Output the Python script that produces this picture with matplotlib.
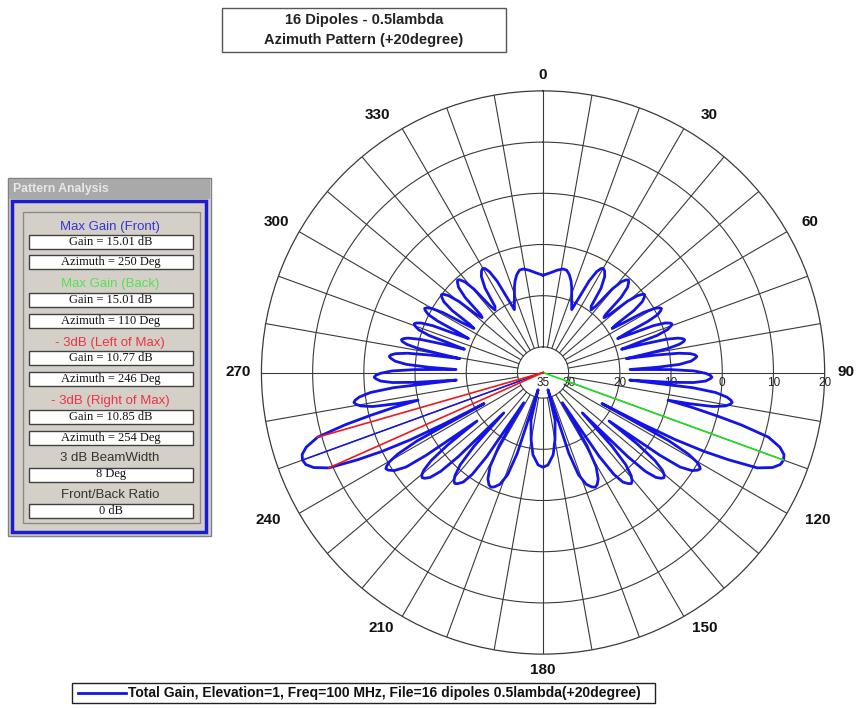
import numpy as np
import matplotlib.pyplot as plt
from matplotlib.patches import Rectangle
from matplotlib.lines import Line2D

plt.rcParams['font.family'] = ['Liberation Sans', 'DejaVu Sans']

W, H = 860, 709

# azimuth pattern, right half (0..180 deg clockwise)
# the pattern is mirror symmetric about the 0-180 axis
ang_right = [0, 4, 8, 11, 13, 15, 17, 18.5, 21, 24.5,
             25.6, 26.7, 28.0, 29.1, 30, 31.2, 32.7, 34.5, 36.0, 37.5,
             38.5, 39.6, 40.8, 41.9, 42.7, 43.5, 44.8, 46.1, 47.2, 48,
             48.9, 49.8, 50.9, 51.8, 52.5, 53.3, 54.5, 55.7, 56.7, 57.5,
             58.3, 59.1, 60.1, 60.9, 61.6, 62.2, 63.2, 64.0, 64.7, 65.5,
             66.3, 67.0, 67.9, 68.7, 69.3, 70.0, 71.0, 72.0, 72.7, 73.5,
             74.2, 74.9, 75.7, 76.4, 77, 77.6, 78.3, 79.1, 79.8, 80.5,
             81.2, 81.9, 82.7, 83.4, 84, 84.6, 85.6, 86.6, 87.4, 88,
             88.7, 89.4, 90.3, 91.0, 91.6, 92.1, 93.0, 93.8, 94.4, 95,
             95.8, 96.6, 97.6, 98.4, 99, 99.6, 100.4, 101.3, 102.0, 102.5,
             103.2, 104.0, 104.8, 106, 107.5, 108.8, 110, 111.2, 112.5, 114,
             115.2, 116.1, 116.9, 117.4, 117.8,
             118.5, 119.3, 120.2, 121.0, 121.5, 122.3, 123.4, 124.6, 125.3, 126.3,
             127.2, 128.2, 129.3, 130.2, 131, 131.8, 132.9, 134.0, 134.8, 135.8,
             136.9, 138.1, 139.5, 140.6, 141.5, 142.4, 143.9, 145.2, 146.2, 147.4,
             149.0, 150.6, 152.6, 154.2, 155.5, 156.9, 158.9, 160.9, 162.3, 164,
             165.8, 170, 173, 177, 180]
gain_right = [-16.0, -15.5, -14.8, -14.4, -14.5, -15.2, -16.3, -17.4, -19.4, -21.5,
              -19.0, -15.0, -12.7, -11.8, -11.5, -11.8, -12.7, -15.0, -19.0, -19.6,
              -18.4, -13.9, -11.6, -10.7, -10.4, -10.7, -11.6, -13.9, -18.4, -19.0,
              -18.0, -13.5, -11.2, -10.3, -10.0, -10.3, -11.2, -13.5, -18.0, -19.0,
              -16.7, -12.2, -9.9, -9.0, -8.7, -9.0, -9.9, -12.2, -16.7, -19.0,
              -16.1, -11.6, -9.3, -8.4, -8.1, -8.4, -9.3, -11.6, -16.1, -19.0,
              -14.6, -10.1, -7.8, -6.9, -6.6, -6.9, -7.8, -10.1, -14.6, -18.5,
              -12.8, -8.3, -6.0, -5.1, -4.8, -5.1, -6.0, -8.3, -12.8, -18.0,
              -10.0, -5.5, -3.2, -2.3, -2.0, -2.3, -3.2, -5.5, -10.0, -18.0,
              -5.6, -1.1, 1.2, 2.1, 2.4, 2.1, 1.2, -1.1, -5.6, -10.0,
              -5.0, 0.0, 5.0, 10.8, 13.5, 14.7, 15.0, 14.7, 13.5, 10.8,
              5.0, 0.0, -6.0, -13.0, -22.0,
              -7.0, -2.5, -0.2, 0.7, 1.0, 0.7, -0.2, -2.5, -7.0, -19.0,
              -11.7, -7.2, -4.9, -4.0, -3.7, -4.0, -4.9, -7.2, -11.7, -24.0,
              -15.3, -10.8, -8.5, -7.6, -7.3, -7.6, -8.5, -10.8, -15.3, -28.0,
              -18.4, -13.9, -11.6, -10.7, -10.4, -10.7, -11.6, -13.9, -18.4, -31.5,
              -25.4, -21.6, -18.8, -16.9, -16.5]

# pattern analysis results
max_gain_front = 15.01
az_front = 250
max_gain_back = 15.01
az_back = 110
gain_left3 = 10.77
az_left3 = 246
gain_right3 = 10.85
az_right3 = 254
beamwidth = 8
fb_ratio = 0

r_ticks = [-35, -30, -20, -10, 0, 10, 20]
r_ticklabels = ['35', '30', '20', '10', '0', '10', '20']
theta_ticks = list(range(0, 360, 30))
# where the angle labels sit in the picture (px, top-left origin)
theta_label_px = [(543, 75), (709, 115), (810, 222), (846, 372), (818, 520), (705, 628),
                  (543, 670), (381, 628), (268, 520), (238, 372), (276, 222), (377, 115)]

ang_full = ang_right + [360 - a for a in ang_right[-2::-1]]
gain_full = gain_right + gain_right[-2::-1]

def fx(x):
    return x / W

def fy(y):
    return 1 - y / H

def box(x0, y0, x1, y1, **kw):
    r = Rectangle((fx(x0), fy(y1)), (x1 - x0) / W, (y1 - y0) / H,
                  transform=fig.transFigure, **kw)
    fig.add_artist(r)

fig = plt.figure(figsize=(8.6, 7.09), dpi=100)
ax = fig.add_axes([0.3040, 0.0774, 0.6549, 0.7944], projection='polar')
ax.set_theta_zero_location('N')
ax.set_theta_direction(-1)
ax.set_ylim(-35, 20)

gc = '#3a3a3a'
ax.set_rgrids([-30, -20, -10, 0, 10], labels=[''] * 5)
ax.yaxis.grid(True, color=gc, lw=0.8)
ax.set_thetagrids(theta_ticks, [''] * len(theta_ticks))
ax.xaxis.grid(False)
ax.spines['polar'].set_color(gc)
ax.spines['polar'].set_linewidth(0.9)

for t, (x, y) in zip(theta_ticks, theta_label_px):
    fig.text(fx(x), fy(y), str(t), ha='center', va='center', fontsize=11,
             fontweight='bold', color='#111111')

# spokes every 10 degrees, stopping at the -30 circle except the 90/270 axis
for t in range(0, 360, 10):
    r0 = -35 if t in (90, 270) else -30
    ax.plot([np.deg2rad(t)] * 2, [r0, 20], color=gc, lw=0.8, zorder=1)

for r, s in zip(r_ticks, r_ticklabels):
    ax.annotate(s, xy=(np.pi / 2, r), xytext=(0, -3), textcoords='offset points',
                ha='center', va='top', fontsize=8.5, color='#222222')

ax.plot(np.deg2rad(ang_full), gain_full, color='#1414e6', lw=2.0, zorder=3)

ax.plot([np.deg2rad(az_front)] * 2, [-35, max_gain_front], color='#1414e6', lw=1.1, zorder=4)
ax.plot([np.deg2rad(az_back)] * 2, [-35, max_gain_back], color='#22dd22', lw=1.2, zorder=4)
ax.plot([np.deg2rad(az_left3)] * 2, [-35, gain_left3], color='#ee1a1a', lw=1.2, zorder=4)
ax.plot([np.deg2rad(az_right3)] * 2, [-35, gain_right3], color='#ee1a1a', lw=1.2, zorder=4)

# title box
box(222, 8, 506, 52, fc='white', ec='#555555', lw=1)
fig.text(fx(364), fy(20), '16 Dipoles - 0.5lambda', ha='center', va='center',
         fontsize=10.5, fontweight='bold', color='#222222')
fig.text(fx(364), fy(40), 'Azimuth Pattern (+20degree)', ha='center', va='center',
         fontsize=10.5, fontweight='bold', color='#222222')

# legend box
box(72, 683, 655, 703, fc='white', ec='#222222', lw=1)
fig.add_artist(Line2D([fx(78), fx(126)], [fy(693)] * 2, color='#1414e6', lw=2,
                      transform=fig.transFigure))
fig.text(fx(128), fy(693),
         'Total Gain, Elevation=1, Freq=100 MHz, File=16 dipoles 0.5lambda(+20degree)',
         ha='left', va='center', fontsize=10, fontweight='bold', color='#111111')

# pattern analysis panel
box(8, 178, 211, 536, fc='#d4d0c8', ec='#808080', lw=1)
box(9, 179, 210, 199, fc='#a9a9a9', ec='none')
fig.text(fx(13), fy(189), 'Pattern Analysis', ha='left', va='center',
         fontsize=8.8, fontweight='bold', color='#e8e8e8')
box(12, 201, 206, 532, fc='#d4d0c8', ec='#1c1cd0', lw=2.5)
box(23, 212, 200, 523, fc='#d4d0c8', ec='#8a8a8a', lw=1)

panel_labels = ['Max Gain (Front)', 'Max Gain (Back)', '- 3dB (Left of Max)',
                '- 3dB (Right of Max)', '3 dB BeamWidth', 'Front/Back Ratio']
label_colors = ['#3434dd', '#55e055', '#ee3344', '#ee3344', '#333333', '#333333']
label_y = [226.7, 284.3, 342.7, 400.7, 458.3, 495]
for s, c, y in zip(panel_labels, label_colors, label_y):
    fig.text(fx(110), fy(y), s, ha='center', va='center', fontsize=9.5, color=c)

panel_values = ['Gain = %.2f dB' % max_gain_front, 'Azimuth = %d Deg' % az_front,
                'Gain = %.2f dB' % max_gain_back, 'Azimuth = %d Deg' % az_back,
                'Gain = %.2f dB' % gain_left3, 'Azimuth = %d Deg' % az_left3,
                'Gain = %.2f dB' % gain_right3, 'Azimuth = %d Deg' % az_right3,
                '%d Deg' % beamwidth, '%d dB' % fb_ratio]
value_y = [242, 262, 300, 321, 358.3, 379, 416.7, 437.5, 474.5, 511.3]
for s, y in zip(panel_values, value_y):
    box(29, y - 7, 193, y + 7, fc='white', ec='#404040', lw=1)
    fig.text(fx(111), fy(y), s, ha='center', va='center', fontsize=9,
             family=['Liberation Serif', 'DejaVu Serif'], color='#111111')

fig.savefig('out.png', dpi=100)
